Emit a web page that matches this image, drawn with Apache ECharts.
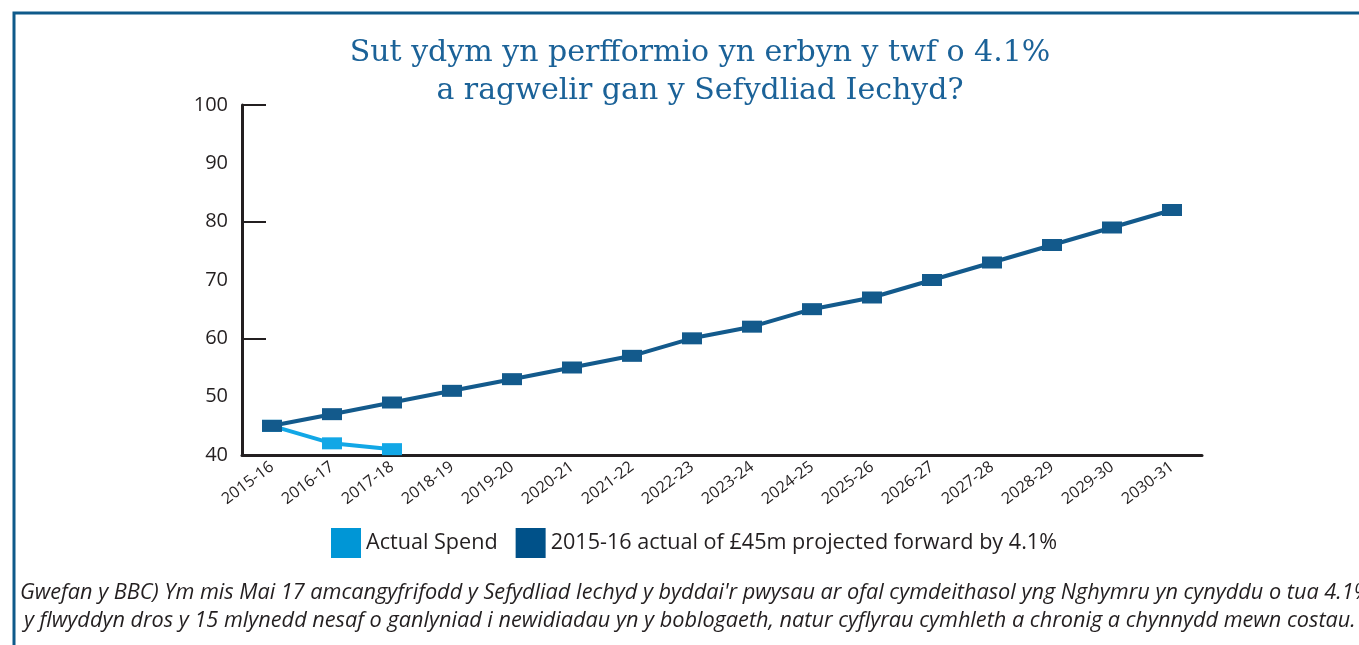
<!DOCTYPE html>
<html>
<head>
<meta charset="utf-8">
<script src="https://cdn.jsdelivr.net/npm/echarts@6/dist/echarts.min.js"></script>
<style>
  html, body { margin: 0; padding: 0; background: #fff; }
  #chart { width: 1359px; height: 645px; }
</style>
</head>
<body>
<div id="chart"></div>
<script>
// data
const years = ['2015-16', '2016-17', '2017-18', '2018-19', '2019-20', '2020-21', '2021-22', '2022-23',
    '2023-24', '2024-25', '2025-26', '2026-27', '2027-28', '2028-29', '2029-30', '2030-31'];
const actualSpend = [45, 42, 41];
const projected = [45, 47, 49, 51, 53, 55, 57, 60, 62, 65, 67, 70, 73, 76, 79, 82];

const titleLines = ['Sut ydym yn perfformio yn erbyn y twf o 4.1%', 'a ragwelir gan y Sefydliad Iechyd?'];
const captionLines = [
    "Gwefan y BBC) Ym mis Mai 17 amcangyfrifodd y Sefydliad Iechyd y byddai'r pwysau ar ofal cymdeithasol yng Nghymru yn cynyddu o tua 4.1%",
    'y flwyddyn dros y 15 mlynedd nesaf o ganlyniad i newidiadau yn y boblogaeth, natur cyflyrau cymhleth a chronig a chynnydd mewn costau.'
];

const chart = echarts.init(document.getElementById('chart'));

const axisColor = '#231f20';
const labelFont = '"Open Sans", "Noto Sans", sans-serif';

chart.setOption({
    backgroundColor: '#fff',
    animation: false,
    title: {
        text: titleLines.join('\n'),
        left: 695,
        textAlign: 'center',
        top: 29,
        textStyle: {
            fontFamily: '"DejaVu Serif", serif',
            fontSize: 30,
            fontWeight: 'normal',
            color: '#1b6298',
            lineHeight: 38
        }
    },
    legend: {
        left: 326,
        top: 523,
        itemWidth: 30,
        itemHeight: 30,
        itemGap: 18,
        icon: 'rect',
        textStyle: {
            fontFamily: labelFont,
            fontSize: 21.6,
            color: axisColor
        },
        data: [
            { name: 'Actual Spend', itemStyle: { color: '#0096d6' } },
            { name: '2015-16 actual of £45m projected forward by 4.1%', itemStyle: { color: '#005189' } }
        ]
    },
    grid: {
        left: 242,
        right: 157,
        top: 105,
        bottom: 190
    },
    xAxis: {
        type: 'category',
        data: years,
        axisLine: { lineStyle: { color: axisColor, width: 3 } },
        axisTick: {
            inside: true,
            length: 8,
            lineStyle: { color: axisColor, width: 3 }
        },
        axisLabel: {
            rotate: 37,
            interval: 0,
            margin: 10,
            fontFamily: labelFont,
            fontSize: 16,
            color: axisColor
        }
    },
    yAxis: [
        {
            type: 'value',
            min: 40,
            max: 100,
            interval: 10,
            splitLine: { show: false },
            axisLine: { show: true, lineStyle: { color: axisColor, width: 3 } },
            axisTick: { show: false },
            axisLabel: {
                margin: 14,
                fontFamily: labelFont,
                fontSize: 20,
                color: axisColor
            }
        },
        {
            // only for the inward ticks every 20
            type: 'value',
            position: 'left',
            min: 40,
            max: 100,
            interval: 20,
            splitLine: { show: false },
            axisLine: { show: false },
            axisLabel: { show: false },
            axisTick: {
                show: true,
                inside: true,
                length: 24,
                lineStyle: { color: axisColor, width: 2 }
            }
        }
    ],
    series: [
        {
            name: 'Actual Spend',
            type: 'line',
            data: actualSpend,
            symbol: 'rect',
            symbolSize: [20, 12],
            itemStyle: { color: '#12a7e6' },
            lineStyle: { color: '#12a7e6', width: 4 }
        },
        {
            name: '2015-16 actual of £45m projected forward by 4.1%',
            type: 'line',
            data: projected,
            symbol: 'rect',
            symbolSize: [20, 12],
            itemStyle: { color: '#135a8c' },
            lineStyle: { color: '#135a8c', width: 4 }
        }
    ],
    graphic: [
        {
            type: 'rect',
            shape: { x: 14, y: 13, width: 1400, height: 700 },
            style: { fill: 'none', stroke: '#0e5a8a', lineWidth: 3 },
            silent: true
        },
        {
            type: 'text',
            left: 20,
            top: 582,
            style: {
                text: captionLines[0],
                font: 'italic 21.7px "Open Sans", sans-serif',
                fill: axisColor
            }
        },
        {
            type: 'text',
            left: 24,
            top: 610,
            style: {
                text: captionLines[1],
                font: 'italic 21.7px "Open Sans", sans-serif',
                fill: axisColor
            }
        }
    ]
});

window.addEventListener('resize', function () {
    chart.resize();
});
</script>
</body>
</html>
